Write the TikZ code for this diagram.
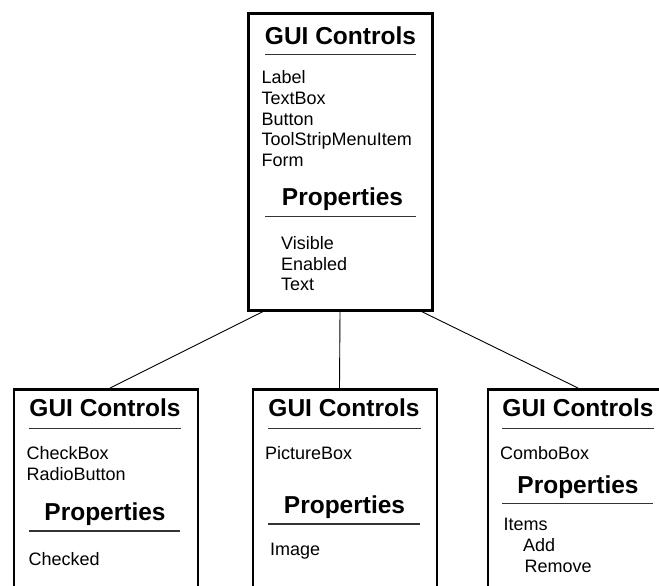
\documentclass[tikz,border=0pt]{standalone}
\usepackage{fontspec}
\setmainfont{Liberation Sans}
\begin{document}
\begin{tikzpicture}[x=1pt,y=-1pt,
  bigbox/.style={draw=black,line width=3pt,fill=white,inner sep=0pt,minimum width=184pt,minimum height=296.5pt},
  smallbox/.style={draw=black,line width=2.6pt,fill=white,inner sep=0pt,minimum width=184pt,minimum height=240pt},
  hdr/.style={anchor=base,inner sep=0pt,font=\fontsize{24.5}{26}\selectfont\bfseries},
  itm/.style={anchor=base west,inner sep=0pt,font=\fontsize{18}{20}\selectfont},
  hrule/.style={line width=1.1pt,draw=black!80},
  conn/.style={line width=0.9pt,draw=black}]
\path[use as bounding box] (0,0) rectangle (659,586);
\clip (0,0) rectangle (659,586);
\fill[white] (0,0) rectangle (659,586);

% boxes
\node[bigbox] (top) at (340.5,161.75) {};
\node[smallbox,anchor=north] (lbox) at (106,388) {};
\node[smallbox,anchor=north] (mbox) at (345,388) {};
\node[smallbox,anchor=north] (rbox) at (580,388) {};

% connectors
\draw[conn] ([xshift=-77.5pt]top.south) -- ([xshift=4pt]lbox.north);
\draw[conn] ([xshift=-0.5pt]top.south) -- ([xshift=-5.5pt]mbox.north);
\draw[conn] ([xshift=81pt]top.south) -- ([xshift=-2pt]rbox.north);

% top box content
\node[hdr] (t1) at (340.5,45) {GUI Controls};
\draw[hrule] (265,54.5) -- (416,54.5);
\node[itm] (t2) at (261.5,84) {Label};
\node[itm] (t3) at (261.5,104.5) {TextBox};
\node[itm] (t4) at (261.5,125) {Button};
\node[itm] (t5) at (261.5,145.5) {ToolStripMenuItem};
\node[itm] (t6) at (261.5,166) {Form};
\node[hdr] (t7) at (342.5,205) {Properties};
\draw[hrule] (265,216.7) -- (416,216.7);
\node[itm] (t8) at (281,249.5) {Visible};
\node[itm] (t9) at (281,270) {Enabled};
\node[itm] (t10) at (281,290.5) {Text};

% left box content
\node[hdr] (l1) at (105,416.7) {GUI Controls};
\draw[hrule] (29,428.5) -- (181,428.5);
\node[itm] (l2) at (26.5,459) {CheckBox};
\node[itm] (l3) at (26.5,480) {RadioButton};
\node[hdr] (l4) at (105,520) {Properties};
\draw[hrule] (28.5,531) -- (180,531);
\node[itm] (l5) at (28.5,565) {Checked};

% middle box content
\node[hdr] (m1) at (344,416.7) {GUI Controls};
\draw[hrule] (268,428.5) -- (421,428.5);
\node[itm] (m2) at (265,459) {PictureBox};
\node[hdr] (m3) at (344.5,513) {Properties};
\draw[hrule] (268,524) -- (420,524);
\node[itm] (m4) at (270,555) {Image};

% right box content
\node[hdr] (r1) at (578,416.7) {GUI Controls};
\draw[hrule] (502,428.5) -- (654,428.5);
\node[itm] (r2) at (500,459) {ComboBox};
\node[hdr] (r3) at (578,493) {Properties};
\draw[hrule] (502,503.5) -- (653,503.5);
\node[itm] (r4) at (503.5,530) {Items};
\node[itm] (r5) at (523,551.5) {Add};
\node[itm] (r6) at (524.5,572) {Remove};
\end{tikzpicture}
\end{document}
